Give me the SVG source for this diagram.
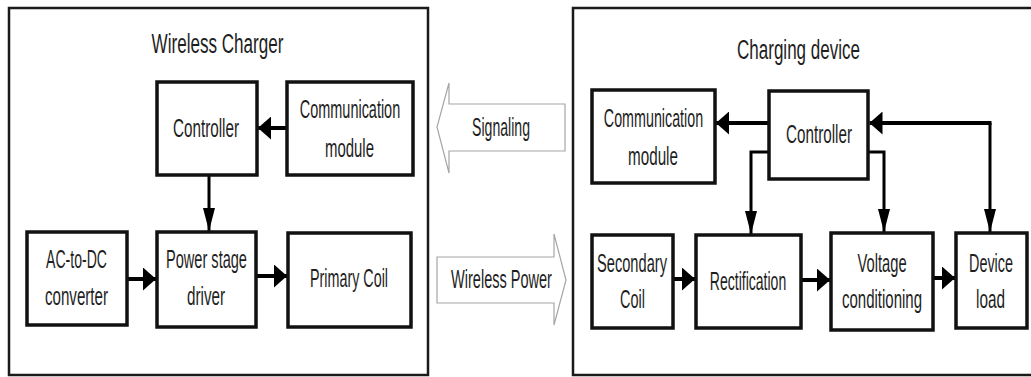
<svg xmlns="http://www.w3.org/2000/svg" width="1031" height="377" viewBox="0 0 1031 377">
<style>
  .frame{fill:none;stroke:#1a1a1a;stroke-width:2.5}
  .box{fill:#fff;stroke:#111;stroke-width:3.5}
  .t{font-family:'Liberation Sans',Arial,sans-serif;font-size:26px;fill:#1e1e1e;text-anchor:middle}
  .title{font-size:28px}
  .h{fill:none;stroke:#000;stroke-width:4;marker-end:url(#ah)}
  .v{fill:none;stroke:#000;stroke-width:3;marker-end:url(#av)}
  .big{fill:#fff;stroke:#a6a6a6;stroke-width:1.2}
</style>
<defs>
  <marker id="ah" markerUnits="userSpaceOnUse" markerWidth="13" markerHeight="23" refX="13" refY="11.5" orient="auto" viewBox="0 0 13 23">
    <path d="M0,0 L13,11.5 L0,23 Z" fill="#000"/>
  </marker>
  <marker id="av" markerUnits="userSpaceOnUse" markerWidth="23" markerHeight="12" refX="23" refY="6" orient="auto" viewBox="0 0 23 12">
    <path d="M0,0 L23,6 L0,12 Z" fill="#000"/>
  </marker>
</defs>
<rect width="1031" height="377" fill="#fff"/>

<g id="wireless-charger">
  <rect class="frame" x="9" y="8" width="419" height="367"/>
  <text class="t title" transform="translate(217.5,53) scale(0.61,1)">Wireless Charger</text>
</g>
<g id="charging-device">
  <path class="frame" d="M1031,8 H573 V375 H1031"/>
  <text class="t title" transform="translate(798.5,59) scale(0.608,1)">Charging device</text>
</g>

<g id="connectors">
  <path class="h" d="M287,128 H258"/>
  <path class="v" d="M209,175 V231"/>
  <path class="h" d="M127,279 H156"/>
  <path class="h" d="M256,276 H287"/>
  <path class="h" d="M769,123 H716"/>
  <path class="h" d="M991.5,123 H869.5"/>
  <path class="v" d="M990,123 V232"/>
  <path class="v" d="M769,152 H751 V234"/>
  <path class="v" d="M868,152 H884 V232"/>
  <path class="h" d="M673,279 H695"/>
  <path class="h" d="M801,280 H830"/>
  <path class="h" d="M933,278 H955"/>
</g>

<g id="signaling">
  <path class="big" d="M565,104 H449 V83 L437,127 L449,173 V151 H565 Z"/>
  <text class="t" transform="translate(501,136) scale(0.542,1)">Signaling</text>
</g>
<g id="wireless-power">
  <path class="big" d="M437,257 H554 V234 L566,280 L554,325 V303 H437 Z"/>
  <text class="t" transform="translate(501.5,288) scale(0.559,1)">Wireless Power</text>
</g>

<g id="l-controller">
  <rect class="box" x="157" y="82" width="100" height="93"/>
  <text class="t" transform="translate(206,137) scale(0.586,1)">Controller</text>
</g>
<g id="l-comm">
  <rect class="box" x="287" y="82" width="126" height="93"/>
  <text class="t" transform="translate(350,118) scale(0.556,1)">Communication</text>
  <text class="t" transform="translate(349.5,157) scale(0.575,1)">module</text>
</g>
<g id="l-acdc">
  <rect class="box" x="27" y="232" width="100" height="93"/>
  <text class="t" transform="translate(76.5,268) scale(0.541,1)">AC-to-DC</text>
  <text class="t" transform="translate(76.5,305) scale(0.581,1)">converter</text>
</g>
<g id="l-power">
  <rect class="box" x="157" y="232" width="99" height="95"/>
  <text class="t" transform="translate(206.5,268) scale(0.56,1)">Power stage</text>
  <text class="t" transform="translate(206,305) scale(0.585,1)">driver</text>
</g>
<g id="l-primary">
  <rect class="box" x="288" y="233" width="123" height="94"/>
  <text class="t" transform="translate(349,287) scale(0.551,1)">Primary Coil</text>
</g>

<g id="r-comm">
  <rect class="box" x="592" y="90" width="123" height="93"/>
  <text class="t" transform="translate(653.5,127) scale(0.55,1)">Communication</text>
  <text class="t" transform="translate(653,165) scale(0.586,1)">module</text>
</g>
<g id="r-controller">
  <rect class="box" x="769" y="91" width="99" height="88"/>
  <text class="t" transform="translate(819,143) scale(0.586,1)">Controller</text>
</g>
<g id="r-secondary">
  <rect class="box" x="592" y="235" width="81" height="93"/>
  <text class="t" transform="translate(632,272) scale(0.563,1)">Secondary</text>
  <text class="t" transform="translate(632.5,308) scale(0.558,1)">Coil</text>
</g>
<g id="r-rect">
  <rect class="box" x="696" y="235" width="105" height="93"/>
  <text class="t" transform="translate(748,290) scale(0.54,1)">Rectification</text>
</g>
<g id="r-voltage">
  <rect class="box" x="831" y="233" width="102" height="97"/>
  <text class="t" transform="translate(882,272) scale(0.567,1)">Voltage</text>
  <text class="t" transform="translate(882,308) scale(0.577,1)">conditioning</text>
</g>
<g id="r-device">
  <rect class="box" x="956" y="233" width="71" height="95"/>
  <text class="t" transform="translate(991,272) scale(0.554,1)">Device</text>
  <text class="t" transform="translate(990.5,308) scale(0.59,1)">load</text>
</g>
</svg>
